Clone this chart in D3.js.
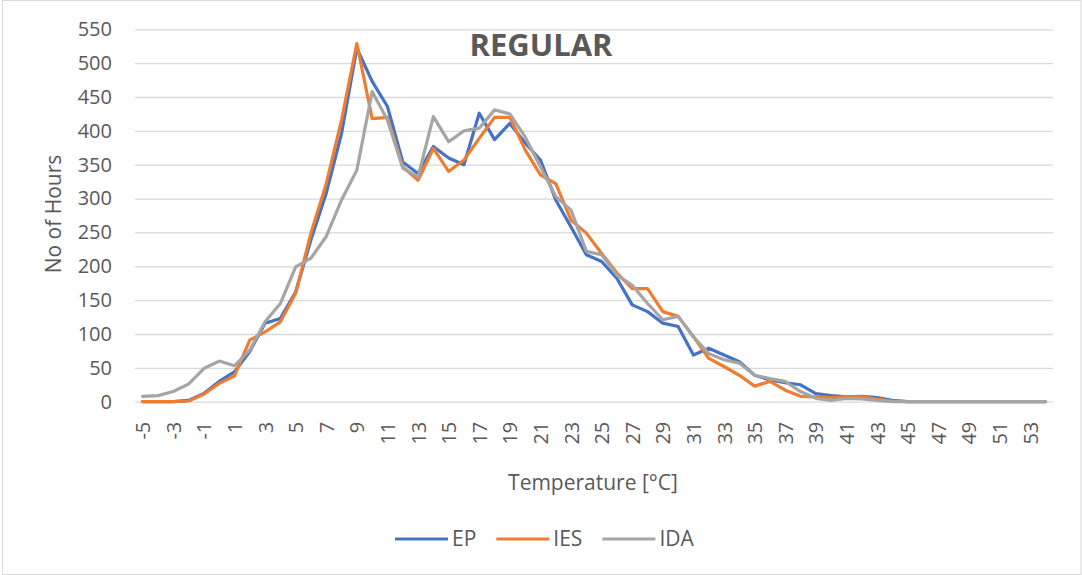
<!DOCTYPE html>
<html>
<head>
<meta charset="utf-8">
<script src="https://cdn.jsdelivr.net/npm/d3@7"></script>
<style>
  body { margin: 0; background: #fff; }
  text { font-family: "Open Sans", sans-serif; fill: #595959; }
</style>
</head>
<body>
<div id="chart"></div>
<script>
// temperature categories -5 .. 54
var temps = [-5,-4,-3,-2,-1,0,1,2,3,4,5,6,7,8,9,10,11,12,13,14,15,16,17,18,19,20,
  21,22,23,24,25,26,27,28,29,30,31,32,33,34,35,36,37,38,39,40,41,42,43,44,45,46,47,48,
  49,50,51,52,53,54];

var ep = [0,0,0,2,12,30,44,74,116,123,162,239,308,396,522,473,436,354,337,377,360,350,
  426,387,411,382,357,298,258,217,207,182,143,133,116,111,69,79,69,59,39,32,28,25,12,9,
  7,8,6,2,0,0,0,0,0,0,0,0,0,0];

var ies = [0,0,0,1,11,27,38,91,103,118,160,249,322,416,529,418,420,347,327,374,340,357,
  389,420,420,372,335,322,268,249,219,190,167,167,133,126,96,64,52,39,23,30,17,8,7,6,
  7,7,4,1,0,0,0,0,0,0,0,0,0,0];

var ida = [8,9,15,26,49,60,53,76,118,145,199,212,244,298,342,458,416,345,332,421,384,400,
  404,431,425,391,347,303,283,222,217,187,172,145,121,126,96,71,62,57,39,34,30,15,5,2,
  5,4,2,0,0,0,0,0,0,0,0,0,0,0];

var seriesNames = ["EP", "IES", "IDA"];
var seriesColors = ["#4472C4", "#ED7D31", "#A5A5A5"];
var yTicks = [0,50,100,150,200,250,300,350,400,450,500,550];

var W = 1082, H = 575;
var margin = {top: 29.3, right: 29, bottom: 173.3, left: 135};

var svg = d3.select("#chart").append("svg")
  .attr("width", W).attr("height", H);

// chart border
svg.append("rect")
  .attr("x", 2.5).attr("y", 0.5)
  .attr("width", W - 3.5).attr("height", H - 1)
  .attr("fill", "#fff").attr("stroke", "#D9D9D9");

var width = W - margin.left - margin.right,
    height = H - margin.top - margin.bottom;

var g = svg.append("g").attr("transform", "translate(" + margin.left + "," + margin.top + ")");

var x = d3.scalePoint().domain(temps).range([0, width]).padding(0.5);
var y = d3.scaleLinear().domain([0, 550]).range([height, 0]);

// y axis + gridlines
var yAxis = g.append("g")
  .call(d3.axisLeft(y).tickValues(yTicks).tickSize(-width).tickPadding(23));
yAxis.select(".domain").remove();
yAxis.selectAll(".tick line").attr("stroke", "#D9D9D9").attr("stroke-width", 1.3);
yAxis.selectAll(".tick text").style("font-size", "20px").attr("fill", "#595959");

// x axis
var xAxis = g.append("g")
  .attr("transform", "translate(0," + height + ")")
  .call(d3.axisBottom(x).tickValues(temps.filter(function(t) { return Math.abs(t) % 2 === 1; })).tickSize(0));
xAxis.select(".domain").remove();
xAxis.selectAll(".tick text")
  .attr("x", 0).attr("y", 0).attr("dy", "0.35em")
  .attr("transform", "translate(0,20) rotate(-90)")
  .style("text-anchor", "end")
  .style("font-size", "20px")
  .attr("fill", "#595959");

// lines
var allSeries = [ep, ies, ida];
var line = d3.line()
  .x(function(d, i) { return x(temps[i]); })
  .y(function(d) { return y(d); });

g.append("g").selectAll("path")
  .data(allSeries)
  .enter().append("path")
    .attr("d", line)
    .attr("fill", "none")
    .attr("stroke", function(d, i) { return seriesColors[i]; })
    .attr("stroke-width", 3.2)
    .attr("stroke-linejoin", "round")
    .attr("stroke-linecap", "round");

// title
svg.append("text")
  .attr("x", 541).attr("y", 56)
  .attr("text-anchor", "middle")
  .style("font-size", "31px").style("font-weight", "700")
  .text("REGULAR");

// axis titles
svg.append("text")
  .attr("x", 593).attr("y", 490)
  .attr("text-anchor", "middle")
  .style("font-size", "21px")
  .text("Temperature [°C]");

svg.append("text")
  .attr("transform", "translate(61,214) rotate(-90)")
  .attr("text-anchor", "middle")
  .style("font-size", "21px")
  .text("No of Hours");

// legend
var legend = svg.append("g");
var lx = 0, gap = 20;
seriesNames.forEach(function(name, i) {
  var item = legend.append("g").attr("transform", "translate(" + lx + ",0)");
  item.append("line")
    .attr("x1", 0).attr("x2", 53).attr("y1", 0).attr("y2", 0)
    .attr("stroke", seriesColors[i]).attr("stroke-width", 3.2);
  var t = item.append("text")
    .attr("x", 57).attr("y", 0).attr("dy", "0.35em")
    .style("font-size", "21px")
    .text(name);
  lx += 57 + t.node().getComputedTextLength() + gap;
});
legend.attr("transform", "translate(395,539)");
</script>
</body>
</html>
